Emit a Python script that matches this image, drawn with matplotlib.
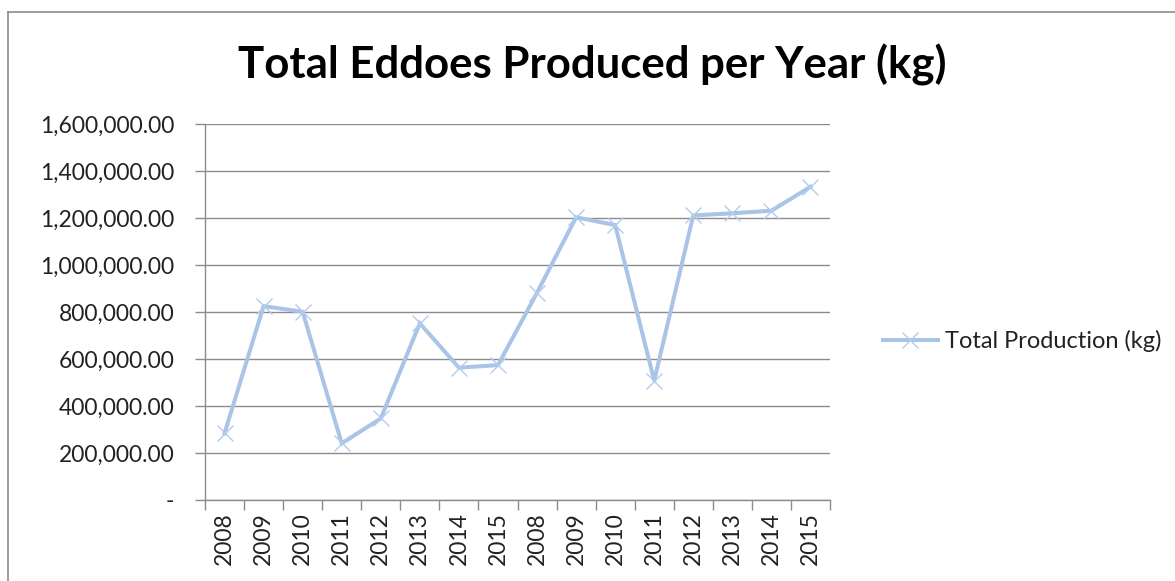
import matplotlib
matplotlib.use("Agg")
import matplotlib.pyplot as plt
from matplotlib.lines import Line2D
from matplotlib.ticker import FuncFormatter, MultipleLocator

# Yearly eddoe production (kg), two consecutive reporting runs of 2008-2015
years = ["2008", "2009", "2010", "2011", "2012", "2013", "2014", "2015",
         "2008", "2009", "2010", "2011", "2012", "2013", "2014", "2015"]
production_kg = [284000, 825000, 801000, 241000, 347000, 752000, 563000, 574000,
                 882000, 1203000, 1170000, 508000, 1211000, 1220000, 1231000, 1333000]

title = "Total Eddoes Produced per Year (kg)"
series_name = "Total Production (kg)"

W, H, DPI = 1175, 581, 100
plt.rcParams["font.family"] = ["Lato", "DejaVu Sans"]

fig = plt.figure(figsize=(W / DPI, H / DPI), dpi=DPI)
fig.patch.set_facecolor("white")

# chart-area frame (top and left edges visible)
frame_col = "#8c8c8c"
fig.add_artist(Line2D([8 / W, 1.0], [1 - 12 / H, 1 - 12 / H], transform=fig.transFigure,
                      color=frame_col, lw=1.2))
fig.add_artist(Line2D([8 / W, 8 / W], [0.0, 1 - 12 / H], transform=fig.transFigure,
                      color=frame_col, lw=1.2))

ax = fig.add_axes([205 / W, 1 - 500 / H, 625 / W, 376 / H])

x = list(range(len(years)))
line_col = "#a9c4e6"
ax.plot(x, production_kg, color=line_col, lw=2.9, marker="x", markersize=11,
        markeredgewidth=1.0, markeredgecolor="#b3ccec", label=series_name,
        solid_joinstyle="miter", zorder=3)

ax.set_xlim(-0.5, len(years) - 0.5)
ax.set_ylim(0, 1600000)
ax.yaxis.set_major_locator(MultipleLocator(200000))
ax.yaxis.set_major_formatter(FuncFormatter(lambda v, p: "-" if v == 0 else f"{v:,.2f}"))

ax.set_xticks(x)
ax.set_xticklabels(years, rotation=90)
ax.set_xticks([i - 0.5 for i in range(len(years) + 1)], minor=True)

grid_col = "#8c8c8c"
ax.grid(axis="y", color=grid_col, lw=1.0)
ax.set_axisbelow(True)
for s in ["top", "right"]:
    ax.spines[s].set_visible(False)
for s in ["left", "bottom"]:
    ax.spines[s].set_color(grid_col)
    ax.spines[s].set_linewidth(1.0)

ax.tick_params(axis="y", length=7, width=1.0, color=grid_col, pad=15,
               labelsize=16.5, labelcolor="#222222")
ax.tick_params(axis="x", which="major", length=0, pad=9, labelsize=16.5,
               labelcolor="#222222")
ax.tick_params(axis="x", which="minor", length=7, width=1.0, color=grid_col)

fig.text(592 / W, 1 - 65 / H, title, ha="center", va="center", fontsize=31.5,
         fontweight="bold", color="black")

fig.legend(handles=ax.get_lines(), labels=[series_name], loc="center left",
           bbox_to_anchor=(862 / W, 1 - 341 / H), frameon=False, fontsize=17,
           handlelength=2.3, handletextpad=0.3, labelcolor="#222222")

fig.savefig("out.png", dpi=DPI)
